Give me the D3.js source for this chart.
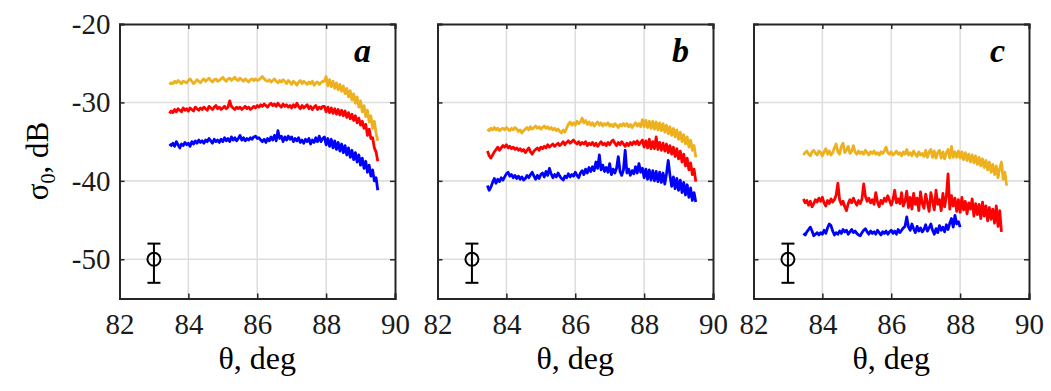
<!DOCTYPE html>
<html><head><meta charset="utf-8">
<script src="https://cdn.jsdelivr.net/npm/d3@7"></script>
<style>body{margin:0;background:#fff}svg{display:block}</style>
</head><body>
<svg id="chart" width="1051" height="391"></svg>
<script>
// ---- data ----
const panelLabels = ["a", "b", "c"];
const xTicks = [82, 84, 86, 88, 90];
const yTicks = [-50, -40, -30, -20];
const thetaStart = 83.45, thetaStep = 0.05;   // sampling grid of the curves (deg)
const errTheta = 83, errCenter = -50, errHigh = -48, errLow = -53;

const aOrange = [-27.7,-27.5,-27.6,-27.3,-27.5,-27.2,-27.4,-27.6,-27.3,-27.4,
-27.5,-27.2,-27.0,-27.3,-27.6,-27.4,-27.1,-27.3,-27.5,-27.2,
-27.0,-27.3,-27.1,-26.9,-27.2,-27.4,-27.1,-27.0,-27.3,-27.2,
-27.0,-26.8,-27.1,-27.3,-27.0,-26.9,-27.2,-27.0,-26.8,-27.1,
-27.2,-26.9,-27.1,-27.3,-27.0,-27.2,-27.4,-27.1,-27.0,-27.2,
-27.0,-27.2,-27.1,-26.9,-26.7,-27.0,-27.2,-27.3,-27.1,-27.4,
-27.2,-27.0,-27.3,-27.5,-27.2,-27.4,-27.1,-27.3,-27.6,-27.2,
-27.4,-27.7,-27.3,-27.5,-27.8,-27.4,-27.2,-27.6,-27.3,-27.5,
-27.7,-27.4,-27.6,-27.3,-27.8,-27.5,-27.4,-27.7,-27.5,-27.3,
-27.3,-26.7,-27.9,-27.1,-28.0,-27.3,-28.2,-27.5,-28.4,-27.7,
-28.6,-27.9,-28.9,-28.2,-29.3,-28.5,-29.7,-28.9,-30.1,-29.3,
-30.6,-29.8,-31.2,-30.4,-31.8,-31.0,-32.5,-31.7,-33.3,-32.4,
-33.9,-34.9];
const aRed = [-31.4,-31.1,-31.3,-30.9,-31.2,-30.8,-31.0,-31.2,-30.7,-31.0,
-30.8,-31.1,-30.7,-30.9,-31.1,-30.6,-30.8,-31.0,-30.7,-30.9,
-30.6,-30.8,-31.0,-30.5,-30.7,-30.9,-30.6,-30.4,-30.8,-30.6,
-30.9,-30.7,-30.5,-30.8,-30.6,-29.8,-30.5,-30.7,-30.9,-30.6,
-30.8,-30.6,-30.9,-30.7,-30.5,-30.8,-30.6,-30.9,-30.7,-30.5,
-30.7,-30.4,-30.6,-30.3,-30.5,-30.2,-30.4,-30.6,-30.3,-30.1,
-30.4,-30.2,-30.5,-30.1,-30.4,-30.6,-30.2,-30.5,-30.3,-30.6,
-30.4,-30.7,-30.3,-30.6,-30.1,-30.5,-30.8,-30.4,-30.7,-30.5,
-30.3,-30.8,-30.5,-30.9,-30.6,-30.4,-30.9,-30.6,-30.8,-30.5,
-30.5,-31.2,-30.6,-31.3,-30.7,-31.4,-30.8,-31.5,-30.9,-31.6,
-31.0,-31.7,-31.1,-31.9,-31.3,-32.1,-31.5,-32.3,-31.7,-32.6,
-32.0,-32.9,-32.4,-33.3,-32.8,-34.2,-33.4,-34.6,-34.5,-35.8,
-36.3,-37.5];
const aBlue = [-35.3,-35.5,-35.2,-35.6,-35.0,-35.4,-35.8,-35.3,-35.5,-35.1,
-35.4,-35.2,-35.6,-35.0,-35.3,-34.9,-35.2,-34.8,-35.1,-34.9,
-35.2,-34.8,-35.0,-34.6,-34.9,-35.2,-34.7,-35.0,-34.8,-35.1,
-34.7,-35.0,-34.5,-34.9,-34.6,-35.0,-34.4,-34.8,-34.5,-34.9,
-34.6,-34.2,-34.8,-34.5,-34.9,-34.6,-34.8,-34.5,-34.7,-34.4,
-34.3,-34.6,-34.5,-34.8,-35.0,-34.7,-35.1,-34.6,-34.9,-34.4,
-34.8,-34.2,-34.9,-33.6,-34.6,-34.3,-35.0,-34.4,-34.8,-34.3,
-34.7,-34.4,-35.0,-34.6,-34.9,-34.5,-35.1,-34.8,-35.2,-34.7,
-35.0,-34.6,-35.3,-34.8,-35.1,-34.5,-35.0,-34.3,-35.0,-34.6,
-34.4,-35.4,-34.6,-35.6,-34.7,-35.8,-34.9,-36.0,-35.1,-36.2,
-35.3,-36.4,-35.5,-36.7,-35.8,-37.0,-36.1,-37.3,-36.4,-37.6,
-36.7,-38.0,-37.1,-38.4,-37.5,-38.9,-38.0,-39.4,-38.6,-40.0,
-39.6,-41.2];

const bOrange = [-33.4,-33.6,-33.3,-33.5,-33.2,-33.5,-33.3,-33.6,-33.4,-33.3,
-33.5,-33.2,-33.4,-33.6,-33.3,-33.5,-33.2,-33.4,-33.7,-33.5,
-33.9,-33.6,-33.4,-33.2,-33.5,-33.1,-33.4,-33.2,-33.0,-33.3,
-33.1,-33.4,-33.2,-33.0,-33.3,-33.1,-33.4,-33.2,-33.5,-33.3,
-33.6,-33.4,-33.7,-33.9,-33.5,-33.8,-33.3,-32.8,-32.5,-32.9,
-32.6,-32.9,-32.4,-32.7,-32.5,-32.0,-32.6,-32.3,-32.8,-32.5,
-32.9,-32.6,-33.0,-32.7,-32.5,-32.9,-32.6,-33.0,-32.7,-32.9,
-32.6,-33.0,-32.8,-33.1,-32.7,-32.9,-33.2,-32.8,-33.0,-32.7,
-33.0,-32.7,-33.1,-32.8,-33.2,-32.9,-32.6,-33.0,-32.7,-33.1,
-32.2,-33.1,-32.3,-33.2,-32.4,-33.3,-32.4,-33.4,-32.5,-33.5,
-32.6,-33.6,-32.7,-33.8,-32.9,-34.0,-33.1,-34.2,-33.3,-34.4,
-33.5,-34.7,-33.8,-35.0,-34.1,-35.3,-34.4,-35.7,-34.8,-36.1,
-35.5,-37.0];
const bRed = [-36.2,-36.8,-37.1,-36.7,-36.3,-36.0,-35.7,-36.1,-35.8,-35.5,
-35.7,-35.4,-35.8,-35.6,-35.9,-35.7,-36.0,-35.8,-36.1,-35.9,
-36.2,-36.0,-36.4,-36.1,-35.8,-36.3,-36.6,-36.2,-36.0,-35.8,
-36.1,-35.7,-35.9,-35.6,-35.8,-35.4,-35.7,-35.5,-35.3,-35.6,
-35.4,-35.2,-35.5,-35.3,-35.0,-35.4,-35.1,-34.9,-35.2,-35.0,
-34.8,-35.1,-35.3,-35.0,-35.4,-35.1,-35.3,-35.0,-35.5,-35.2,
-35.4,-35.1,-35.5,-35.2,-35.6,-35.3,-35.0,-35.4,-35.2,-35.5,
-35.1,-35.4,-35.0,-34.8,-35.2,-35.5,-35.1,-35.4,-35.0,-35.3,
-35.6,-35.2,-35.5,-35.1,-35.4,-35.0,-35.3,-34.9,-35.4,-35.1,
-34.8,-35.7,-34.9,-35.8,-34.7,-35.9,-35.0,-35.9,-34.4,-36.0,
-35.1,-36.1,-35.2,-36.2,-35.3,-36.4,-35.5,-36.6,-35.7,-36.9,
-35.9,-37.2,-36.2,-37.6,-36.6,-38.1,-37.1,-38.6,-37.7,-39.2,
-38.5,-40.1];
const bBlue = [-40.6,-41.2,-40.8,-40.2,-39.7,-40.3,-39.8,-40.1,-39.6,-39.9,
-39.5,-39.1,-38.9,-39.4,-39.2,-39.6,-39.3,-39.7,-39.4,-39.8,
-39.5,-39.9,-39.7,-39.3,-39.6,-39.2,-38.9,-39.4,-39.8,-39.3,
-39.7,-39.2,-39.0,-39.5,-38.8,-39.3,-38.4,-39.1,-39.6,-39.2,
-39.5,-39.0,-39.4,-39.7,-39.9,-39.4,-39.6,-39.1,-39.5,-39.2,
-39.4,-38.9,-39.3,-39.6,-39.0,-38.7,-39.2,-38.5,-39.0,-38.3,
-38.8,-38.2,-38.7,-37.6,-38.4,-36.7,-38.6,-38.0,-38.8,-38.3,
-38.9,-37.8,-39.2,-38.5,-39.0,-38.4,-36.9,-38.8,-39.3,-38.6,
-36.1,-39.0,-38.5,-39.3,-38.7,-39.1,-38.2,-39.0,-37.8,-38.9,
-38.4,-39.6,-38.5,-39.8,-38.6,-39.9,-38.7,-40.0,-38.8,-40.1,
-38.9,-40.2,-39.0,-40.4,-39.1,-37.4,-39.3,-40.7,-39.5,-41.0,
-39.7,-41.2,-39.9,-41.5,-40.2,-41.8,-40.5,-42.1,-40.9,-42.5,
-41.5,-42.7];

const cOrange = [-36.7,-36.4,-36.2,-36.6,-36.8,-36.3,-36.1,-36.5,-36.7,-36.2,
-36.4,-36.8,-36.3,-35.9,-36.6,-36.2,-36.7,-36.4,-35.8,-35.3,
-36.3,-36.6,-35.6,-35.2,-36.4,-36.1,-35.6,-36.5,-36.2,-35.5,
-36.3,-36.6,-36.2,-36.5,-36.3,-36.6,-36.1,-36.4,-36.7,-36.3,
-36.5,-36.2,-36.6,-36.4,-36.7,-36.3,-36.5,-36.2,-35.7,-36.4,
-36.6,-36.3,-36.7,-36.5,-36.2,-36.6,-36.4,-36.8,-36.3,-36.6,
-36.0,-36.7,-36.4,-36.8,-36.2,-36.6,-36.9,-36.3,-36.7,-36.5,
-36.9,-36.1,-37.0,-36.3,-36.0,-37.0,-36.2,-37.1,-36.4,-36.1,
-37.1,-36.3,-37.2,-36.4,-36.0,-37.1,-35.6,-37.0,-36.3,-37.0,
-36.2,-37.1,-36.3,-37.3,-36.4,-37.4,-36.6,-37.6,-36.7,-37.7,
-36.8,-37.9,-37.0,-38.1,-37.2,-38.3,-37.4,-38.6,-37.6,-38.9,
-37.9,-39.2,-38.1,-39.6,-38.4,-37.6,-39.8,-38.9,-40.6];
const cRed = [-42.3,-42.8,-42.5,-43.1,-42.6,-43.3,-42.9,-42.4,-42.7,-42.2,
-42.6,-42.1,-42.8,-43.2,-42.5,-42.9,-42.3,-42.7,-42.4,-41.8,
-40.3,-42.4,-43.0,-42.6,-43.3,-43.8,-42.9,-42.4,-42.8,-42.2,
-42.7,-43.1,-42.5,-42.9,-42.3,-40.4,-42.0,-42.6,-42.2,-42.8,
-42.4,-43.0,-41.5,-42.7,-43.3,-42.5,-42.9,-42.2,-42.6,-41.9,
-42.5,-43.1,-42.4,-41.2,-42.8,-42.3,-42.9,-41.5,-43.2,-42.6,
-41.3,-43.4,-42.1,-43.6,-41.6,-43.0,-42.2,-43.8,-41.4,-42.9,
-43.5,-41.7,-42.8,-43.9,-41.5,-42.6,-43.7,-41.2,-43.0,-42.4,
-43.8,-41.6,-43.3,-42.0,-39.1,-43.6,-41.9,-43.2,-42.2,-43.9,
-42.4,-44.0,-42.1,-43.7,-42.6,-44.2,-42.8,-43.6,-42.3,-44.5,
-42.9,-44.3,-43.0,-44.8,-42.7,-44.5,-43.2,-45.1,-43.4,-44.9,
-43.6,-45.4,-43.2,-45.8,-43.8,-46.5];
const cBlue = [-46.7,-46.9,-46.5,-46.2,-45.9,-46.4,-47.0,-46.8,-46.6,-46.9,
-46.6,-46.8,-46.3,-46.7,-46.0,-45.5,-45.7,-46.4,-46.9,-46.6,
-46.8,-46.4,-46.7,-46.2,-46.5,-46.3,-46.8,-46.5,-46.2,-46.6,
-46.4,-46.7,-46.9,-47.0,-46.6,-46.3,-46.1,-46.5,-46.8,-46.4,
-46.7,-46.5,-46.8,-46.3,-46.6,-46.9,-46.5,-46.7,-46.4,-46.8,
-46.5,-46.3,-46.7,-46.4,-46.8,-46.2,-46.6,-46.3,-46.0,-45.8,
-44.6,-45.9,-46.3,-45.5,-46.1,-46.6,-45.8,-46.4,-46.0,-46.5,
-46.2,-45.6,-46.4,-46.0,-45.5,-46.3,-46.8,-46.1,-46.6,-45.7,
-46.3,-45.9,-46.5,-45.6,-46.2,-45.4,-44.8,-45.9,-44.4,-45.5,
-45.2,-45.9];

const seriesColors = ["#EDB120", "#FF0000", "#0000FF"];
const panelsData = [
  [aOrange, aRed, aBlue],
  [bOrange, bRed, bBlue],
  [cOrange, cRed, cBlue]
];

// ---- layout ----
const svg = d3.select("#chart");
const font = "'Liberation Serif','Times New Roman',serif";
const panelLeft = [119.5, 437.5, 753.5];
const pw = 275.5, plotTop = 24, ph = 274.5;

const y = d3.scaleLinear().domain([-55, -20]).range([plotTop + ph, plotTop]);

panelLeft.forEach((left, p) => {
  const x = d3.scaleLinear().domain([82, 90]).range([left, left + pw]);
  const g = svg.append("g");

  // grid
  g.selectAll(".gx").data(xTicks.slice(1, -1)).join("line")
    .attr("x1", d => x(d)).attr("x2", d => x(d)).attr("y1", plotTop).attr("y2", plotTop + ph)
    .attr("stroke", "#dedede").attr("stroke-width", 1.6);
  g.selectAll(".gy").data(yTicks.slice(0, -1)).join("line")
    .attr("x1", left).attr("x2", left + pw).attr("y1", d => y(d)).attr("y2", d => y(d))
    .attr("stroke", "#dedede").attr("stroke-width", 1.6);

  // data lines
  const line = d3.line().x((d, i) => x(thetaStart + i * thetaStep)).y(d => y(d));
  panelsData[p].forEach((vals, s) => {
    g.append("path").datum(vals).attr("d", line)
      .attr("fill", "none").attr("stroke", seriesColors[s])
      .attr("stroke-width", 2.8).attr("stroke-linejoin", "round");
  });

  // error bar
  const ex = x(errTheta);
  g.append("line").attr("x1", ex).attr("x2", ex).attr("y1", y(errHigh)).attr("y2", y(errLow))
    .attr("stroke", "#000").attr("stroke-width", 2);
  [errHigh, errLow].forEach(v => g.append("line")
    .attr("x1", ex - 6.5).attr("x2", ex + 6.5).attr("y1", y(v)).attr("y2", y(v))
    .attr("stroke", "#000").attr("stroke-width", 2));
  g.append("circle").attr("cx", ex).attr("cy", y(errCenter)).attr("r", 6.5)
    .attr("fill", "none").attr("stroke", "#000").attr("stroke-width", 2);

  // axes (box with inward ticks)
  const axB = g.append("g").attr("transform", `translate(0,${plotTop + ph})`)
    .call(d3.axisBottom(x).tickValues(xTicks).tickSize(-5).tickPadding(15));
  const axT = g.append("g").attr("transform", `translate(0,${plotTop})`)
    .call(d3.axisTop(x).tickValues(xTicks).tickSize(-5).tickFormat(""));
  const axL = g.append("g").attr("transform", `translate(${left},0)`)
    .call(d3.axisLeft(y).tickValues(yTicks).tickSize(-5).tickPadding(9)
      .tickFormat(d => p === 0 ? (d < 0 ? "-" + Math.abs(d) : String(d)) : ""));
  const axR = g.append("g").attr("transform", `translate(${left + pw},0)`)
    .call(d3.axisRight(y).tickValues(yTicks).tickSize(-5).tickFormat(""));
  [axB, axT, axL, axR].forEach(a => {
    a.select(".domain").attr("stroke", "#262626").attr("stroke-width", 2);
    a.selectAll(".tick line").attr("stroke", "#262626").attr("stroke-width", 1.5);
    a.selectAll("text").attr("font-family", font).attr("font-size", 29).attr("fill", "#1a1a1a");
  });
  axB.selectAll("text").attr("dy", "0.71em");

  // x label
  g.append("text").attr("x", left + pw / 2).attr("y", 369)
    .attr("text-anchor", "middle").attr("font-family", font).attr("font-size", 32)
    .attr("fill", "#000").text("θ, deg");

  // panel letter
  g.append("text").attr("x", left + pw - 24).attr("y", 62)
    .attr("text-anchor", "end").attr("font-family", font).attr("font-size", 34)
    .attr("font-weight", "bold").attr("font-style", "italic").attr("fill", "#000")
    .text(panelLabels[p]);
});

// y label
const yl = svg.append("text").attr("transform", "translate(48,161) rotate(-90)")
  .attr("text-anchor", "middle").attr("font-family", font).attr("font-size", 31).attr("fill", "#000");
yl.append("tspan").text("σ");
yl.append("tspan").attr("font-size", 20).attr("dy", 7).text("0");
yl.append("tspan").attr("dy", -7).text(", dB");
</script>
</body></html>
